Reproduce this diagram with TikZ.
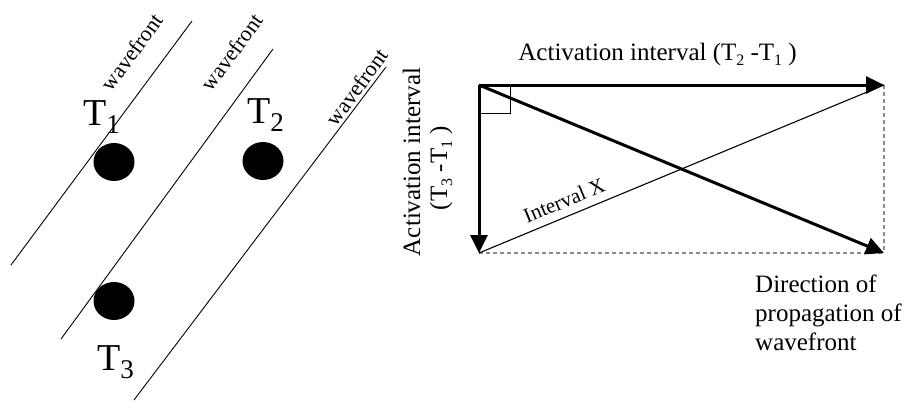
\documentclass[tikz,border=0pt]{standalone}
\usepackage{fontspec}
\setmainfont{Liberation Serif}
\usetikzlibrary{arrows.meta,shapes.geometric}
\newcommand\tsub[1]{\raisebox{-8pt}{\fontsize{27}{27}\selectfont #1}}
\newcommand\ssub[1]{\raisebox{-5pt}{\fontsize{16}{16}\selectfont #1}}
\begin{document}
\begin{tikzpicture}[x=1pt,y=-1pt,
  wline/.style={line width=0.9pt},
  dot/.style={ellipse,fill=black,minimum width=41pt,minimum height=38pt,inner sep=0pt},
  tlab/.style={font=\fontsize{38}{40}\selectfont,inner sep=0pt,anchor=base west},
  wlab/.style={font=\fontsize{22}{24}\selectfont,rotate=54,inner sep=0pt},
  big/.style={font=\fontsize{25}{29}\selectfont,inner sep=0pt},
  thickarrow/.style={line width=3pt,-{Triangle[length=18pt,width=17pt]}},
  thinline/.style={line width=1.1pt},
  dashline/.style={line width=1.2pt,gray!90,dash pattern=on 4pt off 3pt}]
\useasboundingbox (0,0) rectangle (906,402);
% left panel
\coordinate (w1a) at (11,265); \coordinate (w1b) at (192,21);
\coordinate (w2a) at (61,339); \coordinate (w2b) at (273,49);
\coordinate (w3a) at (134,400); \coordinate (w3b) at (386,67);
\draw[wline] (w1a) -- (w1b);
\draw[wline] (w2a) -- (w2b);
\draw[wline] (w3a) -- (w3b);
\node[wlab] (wf1) at (132,52) {wavefront};
\node[wlab] (wf2) at (232,52) {wavefront};
\node[wlab] (wf3) at (357,87) {wavefront};
\node[dot] (d1) at (114,162) {};
\node[dot] (d2) at (263,161) {};
\node[dot] (d3) at (114,301) {};
\node[tlab] (t1) at (83,125) {T\tsub{1}};
\node[tlab] (t2) at (247,123) {T\tsub{2}};
\node[tlab] (t3) at (97,370) {T\tsub{3}};
% right panel
\coordinate (A) at (479,85);
\coordinate (B) at (884,85);
\coordinate (C) at (479,253);
\coordinate (D) at (884,253);
\draw[line width=0.8pt] (A) rectangle (510,113);
\draw[dashline] (B) -- (D);
\draw[dashline] (C) -- (D);
\draw[thinline] (C) -- node[pos=0.225,sloped,above=8pt,inner sep=0pt,font=\fontsize{21}{24}\selectfont] (ix) {Interval X} (B);
\draw[thickarrow] (A) -- (B);
\draw[thickarrow] (A) -- (C);
\draw[thickarrow] (A) -- (D);
\node[big,anchor=base east] (top) at (797,60) {Activation interval (T\ssub{2} -T\ssub{1} )};
\node[big,anchor=base,rotate=90] (lv1) at (420,162) {Activation interval};
\node[big,anchor=base,rotate=90] (lv2) at (447,168) {(T\ssub{3} -T\ssub{1} )};
\node[big,anchor=north west,align=left] (dir) at (755,275) {Direction of\\propagation of\\wavefront};
\end{tikzpicture}
\end{document}
